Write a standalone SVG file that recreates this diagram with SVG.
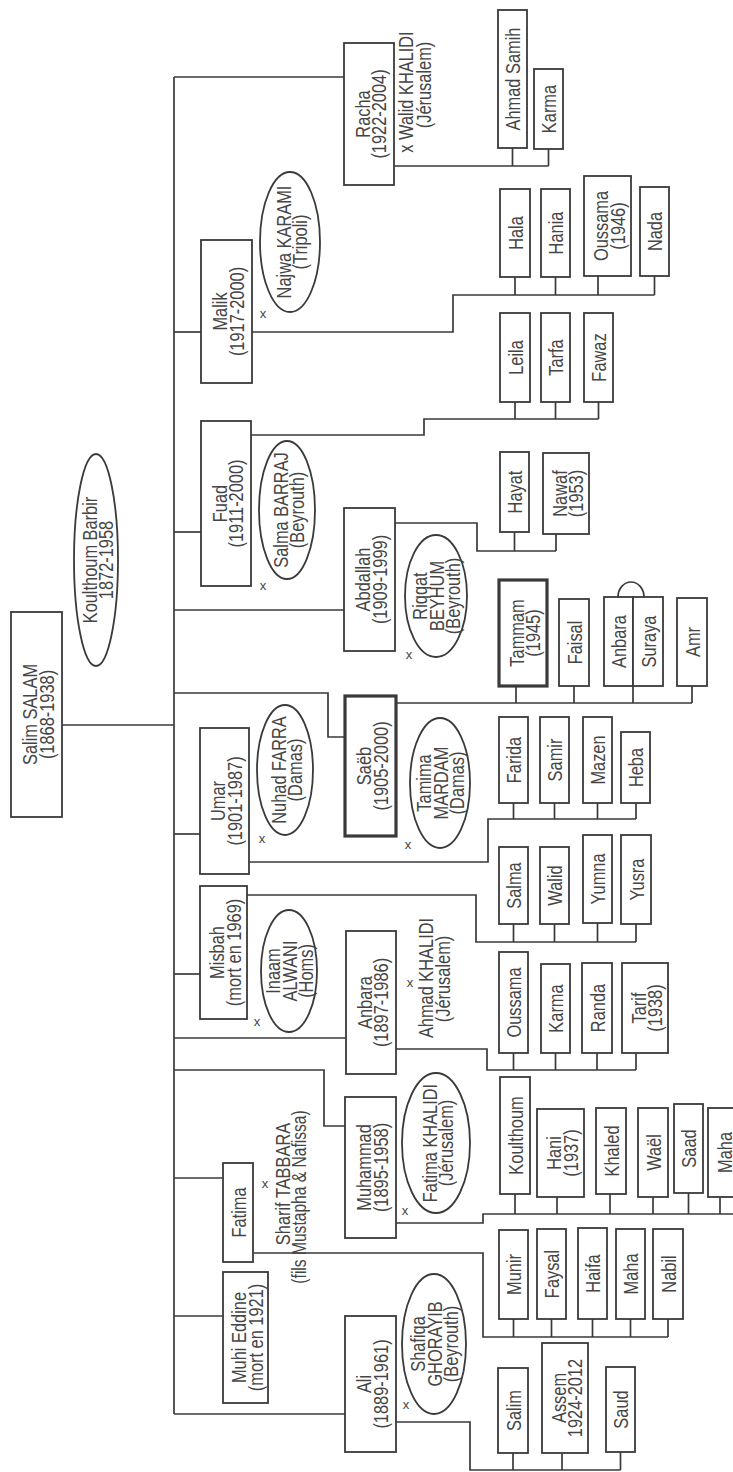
<svg xmlns="http://www.w3.org/2000/svg" width="733" height="1472" viewBox="0 0 733 1472">
<style>
.bx{fill:#fff;stroke:#3a3a3a;stroke-width:1.8}
.bd{stroke-width:3.2}
.el{fill:#fff;stroke:#3a3a3a;stroke-width:1.8}
.ln{fill:none;stroke:#3a3a3a;stroke-width:1.7}
.t{font-family:"Liberation Sans",Arial,sans-serif;font-size:20px;fill:#454545;text-anchor:middle}
.x{font-family:"Liberation Sans",Arial,sans-serif;font-size:13px;fill:#454545;text-anchor:middle}
</style>
<rect width="733" height="1472" fill="#fff"/>
<g id="connectors" class="ln">
<path d="M174 77V1414"/>
<path d="M174 77H344"/>
<path d="M174 332H201"/>
<path d="M174 532H201"/>
<path d="M174 610H344"/>
<path d="M62 725H174"/>
<path d="M174 693H328V737H345"/>
<path d="M174 834H200"/>
<path d="M174 974H200"/>
<path d="M174 1038H346"/>
<path d="M174 1070H324V1126H345"/>
<path d="M174 1178H223"/>
<path d="M174 1316H223"/>
<path d="M174 1414H345"/>
<path d="M394 166H548.5M512.5 166V148M548.5 166V149"/>
<path d="M252 332H453V295H654.5M515 295V277M555.5 295V277M598 295V276M654.5 295V276"/>
<path d="M251 435H424V419H598.5M515 419V402M555.5 419V402M598.5 419V402"/>
<path d="M395 523H477V551H556M514.5 551V532M556 551V534"/>
<path d="M396 703H692M516 703V686M574 703V686M633 703V686M692 703V686"/>
<path d="M618 597A13 15 0 0 1 644 597"/>
<path d="M249 862H488V819H636M513.5 819V803M554.5 819V803M597.5 819V803M636 819V803"/>
<path d="M247 895H476V942H636M513.5 942V924M554.5 942V924M597.5 942V923M636 942V924"/>
<path d="M396 1049H487V1070H636M513.5 1070V1053M555.5 1070V1053M597 1070V1053M636 1070V1053"/>
<path d="M396 1223H483V1214H733M515 1214V1194M557 1214V1197M610 1214V1194M653 1214V1197M688.5 1214V1193M720 1214V1197"/>
<path d="M253 1253H483V1337H668M513.5 1337V1319M551.5 1337V1319M592.5 1337V1319M630.5 1337V1319M668 1337V1319"/>
<path d="M396 1422H470V1470H620.5M513 1470V1453M562 1470V1453M620.5 1470V1452"/>
</g>

<g id="salim"><rect class="bx" x="11" y="612" width="51" height="205"/><text class="t" transform="translate(36.5,714.5) rotate(-90) scale(0.82,1)"><tspan x="0" y="0.5">Salim SALAM</tspan><tspan x="0" y="17">(1868-1938)</tspan></text></g>
<g id="koulthoum"><ellipse class="el" cx="96" cy="560" rx="22" ry="106"/><text class="t" transform="translate(96,560) rotate(-90) scale(0.82,1)"><tspan x="0" y="0.5">Koulthoum Barbir</tspan><tspan x="0" y="17">1872-1958</tspan></text></g>

<g id="racha"><rect class="bx" x="344" y="43" width="50" height="142"/><text class="t" transform="translate(369,114) rotate(-90) scale(0.82,1)"><tspan x="0" y="0.5">Racha</tspan><tspan x="0" y="17">(1922-2004)</tspan></text></g>
<g id="walid"><text class="t" transform="translate(413,92) rotate(-90) scale(0.82,1)">x Walid KHALIDI</text><text class="t" transform="translate(431,85) rotate(-90) scale(0.82,1)">(Jérusalem)</text></g>
<g id="ahmadsamih"><rect class="bx" x="498" y="10" width="29" height="138"/><text class="t" transform="translate(512.5,79) rotate(-90) scale(0.82,1)"><tspan x="0" y="7.5">Ahmad Samih</tspan></text></g>
<g id="karma1"><rect class="bx" x="534" y="69" width="29" height="80"/><text class="t" transform="translate(548.5,109) rotate(-90) scale(0.82,1)"><tspan x="0" y="7.5">Karma</tspan></text></g>

<g id="malik"><rect class="bx" x="201" y="240" width="51" height="143"/><text class="t" transform="translate(226.5,311.5) rotate(-90) scale(0.82,1)"><tspan x="0" y="0.5">Malik</tspan><tspan x="0" y="17">(1917-2000)</tspan></text></g>
<text class="x" x="263" y="318">x</text>
<g id="najwa"><ellipse class="el" cx="290" cy="242" rx="30" ry="70"/><text class="t" transform="translate(290,242) rotate(-90) scale(0.82,1)"><tspan x="0" y="0.5">Najwa KARAMI</tspan><tspan x="0" y="17">(Tripoli)</tspan></text></g>
<g id="hala"><rect class="bx" x="500" y="189" width="30" height="88"/><text class="t" transform="translate(515,233) rotate(-90) scale(0.82,1)"><tspan x="0" y="7.5">Hala</tspan></text></g>
<g id="hania"><rect class="bx" x="541" y="189" width="29" height="88"/><text class="t" transform="translate(555.5,233) rotate(-90) scale(0.82,1)"><tspan x="0" y="7.5">Hania</tspan></text></g>
<g id="oussama1"><rect class="bx" x="584" y="176" width="47" height="100"/><text class="t" transform="translate(607.5,226) rotate(-90) scale(0.82,1)"><tspan x="0" y="0.5">Oussama</tspan><tspan x="0" y="17">(1946)</tspan></text></g>
<g id="nada"><rect class="bx" x="640" y="187" width="29" height="89"/><text class="t" transform="translate(654.5,231.5) rotate(-90) scale(0.82,1)"><tspan x="0" y="7.5">Nada</tspan></text></g>

<g id="fuad"><rect class="bx" x="201" y="421" width="50" height="165"/><text class="t" transform="translate(226,503.5) rotate(-90) scale(0.82,1)"><tspan x="0" y="0.5">Fuad</tspan><tspan x="0" y="17">(1911-2000)</tspan></text></g>
<text class="x" x="263" y="590">x</text>
<g id="salma"><ellipse class="el" cx="287" cy="510" rx="28" ry="69"/><text class="t" transform="translate(287,510) rotate(-90) scale(0.82,1)"><tspan x="0" y="0.5">Salma BARRAJ</tspan><tspan x="0" y="17">(Beyrouth)</tspan></text></g>
<g id="leila"><rect class="bx" x="500" y="313" width="30" height="89"/><text class="t" transform="translate(515,357.5) rotate(-90) scale(0.82,1)"><tspan x="0" y="7.5">Leila</tspan></text></g>
<g id="tarfa"><rect class="bx" x="541" y="313" width="29" height="89"/><text class="t" transform="translate(555.5,357.5) rotate(-90) scale(0.82,1)"><tspan x="0" y="7.5">Tarfa</tspan></text></g>
<g id="fawaz"><rect class="bx" x="584" y="313" width="29" height="89"/><text class="t" transform="translate(598.5,357.5) rotate(-90) scale(0.82,1)"><tspan x="0" y="7.5">Fawaz</tspan></text></g>

<g id="abdallah"><rect class="bx" x="344" y="508" width="51" height="143"/><text class="t" transform="translate(369.5,579.5) rotate(-90) scale(0.82,1)"><tspan x="0" y="0.5">Abdallah</tspan><tspan x="0" y="17">(1909-1999)</tspan></text></g>
<text class="x" x="409" y="659">x</text>
<g id="riqqat"><ellipse class="el" cx="436" cy="596" rx="31" ry="61"/><text class="t" transform="translate(436,596) rotate(-90) scale(0.82,1)"><tspan x="0" y="-9">Riqqat</tspan><tspan x="0" y="7.5">BEYHUM</tspan><tspan x="0" y="24">(Beyrouth)</tspan></text></g>
<g id="hayat"><rect class="bx" x="500" y="452" width="29" height="80"/><text class="t" transform="translate(514.5,492) rotate(-90) scale(0.82,1)"><tspan x="0" y="7.5">Hayat</tspan></text></g>
<g id="nawaf"><rect class="bx" x="543" y="453" width="46" height="81"/><text class="t" transform="translate(566,493.5) rotate(-90) scale(0.82,1)"><tspan x="0" y="0.5">Nawaf</tspan><tspan x="0" y="17">(1953)</tspan></text></g>

<g id="saeb"><rect class="bx bd" x="345" y="696" width="51" height="140"/><text class="t" transform="translate(370.5,766) rotate(-90) scale(0.82,1)"><tspan x="0" y="0.5">Saëb</tspan><tspan x="0" y="17">(1905-2000)</tspan></text></g>
<text class="x" x="408" y="849">x</text>
<g id="tamima"><ellipse class="el" cx="440" cy="783" rx="30" ry="65"/><text class="t" transform="translate(440,783) rotate(-90) scale(0.82,1)"><tspan x="0" y="-9">Tamima</tspan><tspan x="0" y="7.5">MARDAM</tspan><tspan x="0" y="24">(Damas)</tspan></text></g>
<g id="tammam"><rect class="bx bd" x="499" y="580" width="48" height="106"/><text class="t" transform="translate(523,633) rotate(-90) scale(0.82,1)"><tspan x="0" y="0.5">Tammam</tspan><tspan x="0" y="17">(1945)</tspan></text></g>
<g id="faisal"><rect class="bx" x="559" y="599" width="30" height="87"/><text class="t" transform="translate(574,642.5) rotate(-90) scale(0.82,1)"><tspan x="0" y="7.5">Faisal</tspan></text></g>
<g id="anbara2"><rect class="bx" x="604" y="597" width="29" height="89"/><text class="t" transform="translate(618.5,641.5) rotate(-90) scale(0.82,1)"><tspan x="0" y="7.5">Anbara</tspan></text></g>
<g id="suraya"><rect class="bx" x="633" y="597" width="30" height="89"/><text class="t" transform="translate(648,641.5) rotate(-90) scale(0.82,1)"><tspan x="0" y="7.5">Suraya</tspan></text></g>
<g id="amr"><rect class="bx" x="677" y="598" width="30" height="88"/><text class="t" transform="translate(692,642) rotate(-90) scale(0.82,1)"><tspan x="0" y="7.5">Amr</tspan></text></g>

<g id="umar"><rect class="bx" x="200" y="728" width="49" height="146"/><text class="t" transform="translate(224.5,801) rotate(-90) scale(0.82,1)"><tspan x="0" y="0.5">Umar</tspan><tspan x="0" y="17">(1901-1987)</tspan></text></g>
<text class="x" x="262" y="843">x</text>
<g id="nuhad"><ellipse class="el" cx="285" cy="770" rx="28" ry="65"/><text class="t" transform="translate(285,770) rotate(-90) scale(0.82,1)"><tspan x="0" y="0.5">Nuhad FARRA</tspan><tspan x="0" y="17">(Damas)</tspan></text></g>
<g id="farida"><rect class="bx" x="499" y="717" width="29" height="86"/><text class="t" transform="translate(513.5,760) rotate(-90) scale(0.82,1)"><tspan x="0" y="7.5">Farida</tspan></text></g>
<g id="samir"><rect class="bx" x="540" y="717" width="29" height="86"/><text class="t" transform="translate(554.5,760) rotate(-90) scale(0.82,1)"><tspan x="0" y="7.5">Samir</tspan></text></g>
<g id="mazen"><rect class="bx" x="583" y="717" width="29" height="86"/><text class="t" transform="translate(597.5,760) rotate(-90) scale(0.82,1)"><tspan x="0" y="7.5">Mazen</tspan></text></g>
<g id="heba"><rect class="bx" x="621" y="732" width="29" height="71"/><text class="t" transform="translate(635.5,767.5) rotate(-90) scale(0.82,1)"><tspan x="0" y="7.5">Heba</tspan></text></g>

<g id="misbah"><rect class="bx" x="200" y="886" width="47" height="133"/><text class="t" transform="translate(223.5,952.5) rotate(-90) scale(0.82,1)"><tspan x="0" y="0.5">Misbah</tspan><tspan x="0" y="17">(mort en 1969)</tspan></text></g>
<text class="x" x="257" y="1026">x</text>
<g id="inaam"><ellipse class="el" cx="289" cy="971" rx="28" ry="61"/><text class="t" transform="translate(289,971) rotate(-90) scale(0.82,1)"><tspan x="0" y="-9">Inaam</tspan><tspan x="0" y="7.5">ALWANI</tspan><tspan x="0" y="24">(Homs)</tspan></text></g>
<g id="salma2"><rect class="bx" x="499" y="847" width="29" height="77"/><text class="t" transform="translate(513.5,885.5) rotate(-90) scale(0.82,1)"><tspan x="0" y="7.5">Salma</tspan></text></g>
<g id="walid2"><rect class="bx" x="540" y="847" width="29" height="77"/><text class="t" transform="translate(554.5,885.5) rotate(-90) scale(0.82,1)"><tspan x="0" y="7.5">Walid</tspan></text></g>
<g id="yumna"><rect class="bx" x="583" y="835" width="29" height="88"/><text class="t" transform="translate(597.5,879) rotate(-90) scale(0.82,1)"><tspan x="0" y="7.5">Yumna</tspan></text></g>
<g id="yusra"><rect class="bx" x="621" y="835" width="30" height="89"/><text class="t" transform="translate(636,879.5) rotate(-90) scale(0.82,1)"><tspan x="0" y="7.5">Yusra</tspan></text></g>

<g id="anbara"><rect class="bx" x="346" y="931" width="50" height="143"/><text class="t" transform="translate(371,1002.5) rotate(-90) scale(0.82,1)"><tspan x="0" y="0.5">Anbara</tspan><tspan x="0" y="17">(1897-1986)</tspan></text></g>
<text class="x" x="410" y="987">x</text>
<g id="ahmadk"><text class="t" transform="translate(433,978) rotate(-90) scale(0.82,1)">Ahmad KHALIDI</text><text class="t" transform="translate(450,979) rotate(-90) scale(0.82,1)">(Jérusalem)</text></g>
<g id="oussama2"><rect class="bx" x="499" y="952" width="29" height="101"/><text class="t" transform="translate(513.5,1002.5) rotate(-90) scale(0.82,1)"><tspan x="0" y="7.5">Oussama</tspan></text></g>
<g id="karma2"><rect class="bx" x="541" y="964" width="29" height="89"/><text class="t" transform="translate(555.5,1008.5) rotate(-90) scale(0.82,1)"><tspan x="0" y="7.5">Karma</tspan></text></g>
<g id="randa"><rect class="bx" x="582" y="963" width="30" height="90"/><text class="t" transform="translate(597,1008) rotate(-90) scale(0.82,1)"><tspan x="0" y="7.5">Randa</tspan></text></g>
<g id="tarif"><rect class="bx" x="622" y="963" width="46" height="90"/><text class="t" transform="translate(645,1008) rotate(-90) scale(0.82,1)"><tspan x="0" y="0.5">Tarif</tspan><tspan x="0" y="17">(1938)</tspan></text></g>

<g id="muhammad"><rect class="bx" x="345" y="1097" width="51" height="141"/><text class="t" transform="translate(370.5,1167.5) rotate(-90) scale(0.82,1)"><tspan x="0" y="0.5">Muhammad</tspan><tspan x="0" y="17">(1895-1958)</tspan></text></g>
<text class="x" x="405" y="1215">x</text>
<g id="fatimak"><ellipse class="el" cx="436" cy="1143" rx="34" ry="70"/><text class="t" transform="translate(436,1143) rotate(-90) scale(0.82,1)"><tspan x="0" y="0.5">Fatima KHALIDI</tspan><tspan x="0" y="17">(Jérusalem)</tspan></text></g>
<g id="koulthoum2"><rect class="bx" x="500" y="1077" width="30" height="117"/><text class="t" transform="translate(515,1135.5) rotate(-90) scale(0.82,1)"><tspan x="0" y="7.5">Koulthoum</tspan></text></g>
<g id="hani"><rect class="bx" x="537" y="1109" width="47" height="88"/><text class="t" transform="translate(560.5,1153) rotate(-90) scale(0.82,1)"><tspan x="0" y="0.5">Hani</tspan><tspan x="0" y="17">(1937)</tspan></text></g>
<g id="khaled"><rect class="bx" x="596" y="1108" width="30" height="86"/><text class="t" transform="translate(611,1151) rotate(-90) scale(0.82,1)"><tspan x="0" y="7.5">Khaled</tspan></text></g>
<g id="wael"><rect class="bx" x="638" y="1108" width="30" height="89"/><text class="t" transform="translate(653,1152.5) rotate(-90) scale(0.82,1)"><tspan x="0" y="7.5">Waël</tspan></text></g>
<g id="saad"><rect class="bx" x="674" y="1104" width="29" height="89"/><text class="t" transform="translate(688.5,1148.5) rotate(-90) scale(0.82,1)"><tspan x="0" y="7.5">Saad</tspan></text></g>
<g id="maha1"><rect class="bx" x="708" y="1108" width="32" height="89"/><text class="t" transform="translate(724,1152.5) rotate(-90) scale(0.82,1)"><tspan x="0" y="7.5">Maha</tspan></text></g>

<g id="fatima"><rect class="bx" x="223" y="1163" width="30" height="99"/><text class="t" transform="translate(238,1212.5) rotate(-90) scale(0.82,1)"><tspan x="0" y="7.5">Fatima</tspan></text></g>
<text class="x" x="265" y="1188">x</text>
<g id="sharif"><text class="t" transform="translate(290,1184) rotate(-90) scale(0.82,1)">Sharif TABBARA</text><text class="t" transform="translate(306,1197) rotate(-90) scale(0.78,1)">(fils Mustapha &amp; Nafissa)</text></g>
<g id="munir"><rect class="bx" x="499" y="1230" width="29" height="89"/><text class="t" transform="translate(513.5,1274.5) rotate(-90) scale(0.82,1)"><tspan x="0" y="7.5">Munir</tspan></text></g>
<g id="faysal"><rect class="bx" x="537" y="1229" width="29" height="90"/><text class="t" transform="translate(551.5,1274) rotate(-90) scale(0.82,1)"><tspan x="0" y="7.5">Faysal</tspan></text></g>
<g id="haifa"><rect class="bx" x="578" y="1228" width="29" height="91"/><text class="t" transform="translate(592.5,1273.5) rotate(-90) scale(0.82,1)"><tspan x="0" y="7.5">Haifa</tspan></text></g>
<g id="maha2"><rect class="bx" x="616" y="1229" width="29" height="90"/><text class="t" transform="translate(630.5,1274) rotate(-90) scale(0.82,1)"><tspan x="0" y="7.5">Maha</tspan></text></g>
<g id="nabil"><rect class="bx" x="653" y="1229" width="30" height="90"/><text class="t" transform="translate(668,1274) rotate(-90) scale(0.82,1)"><tspan x="0" y="7.5">Nabil</tspan></text></g>

<g id="muhieddine"><rect class="bx" x="223" y="1272" width="45" height="131"/><text class="t" transform="translate(245.5,1337.5) rotate(-90) scale(0.82,1)"><tspan x="0" y="0.5">Muhi Eddine</tspan><tspan x="0" y="17">(mort en 1921)</tspan></text></g>

<g id="ali"><rect class="bx" x="345" y="1316" width="51" height="136"/><text class="t" transform="translate(370.5,1384) rotate(-90) scale(0.82,1)"><tspan x="0" y="0.5">Ali</tspan><tspan x="0" y="17">(1889-1961)</tspan></text></g>
<text class="x" x="406" y="1409">x</text>
<g id="shafiqa"><ellipse class="el" cx="434" cy="1344" rx="32" ry="70"/><text class="t" transform="translate(434,1344) rotate(-90) scale(0.82,1)"><tspan x="0" y="-9">Shafiqa</tspan><tspan x="0" y="7.5">GHORAYIB</tspan><tspan x="0" y="24">(Beyrouth)</tspan></text></g>
<g id="salim2"><rect class="bx" x="498" y="1368" width="30" height="85"/><text class="t" transform="translate(513,1410.5) rotate(-90) scale(0.82,1)"><tspan x="0" y="7.5">Salim</tspan></text></g>
<g id="assem"><rect class="bx" x="542" y="1343" width="46" height="110"/><text class="t" transform="translate(565,1398) rotate(-90) scale(0.82,1)"><tspan x="0" y="0.5">Assem</tspan><tspan x="0" y="17">1924-2012</tspan></text></g>
<g id="saud"><rect class="bx" x="606" y="1367" width="29" height="85"/><text class="t" transform="translate(620.5,1409.5) rotate(-90) scale(0.82,1)"><tspan x="0" y="7.5">Saud</tspan></text></g>
</svg>
